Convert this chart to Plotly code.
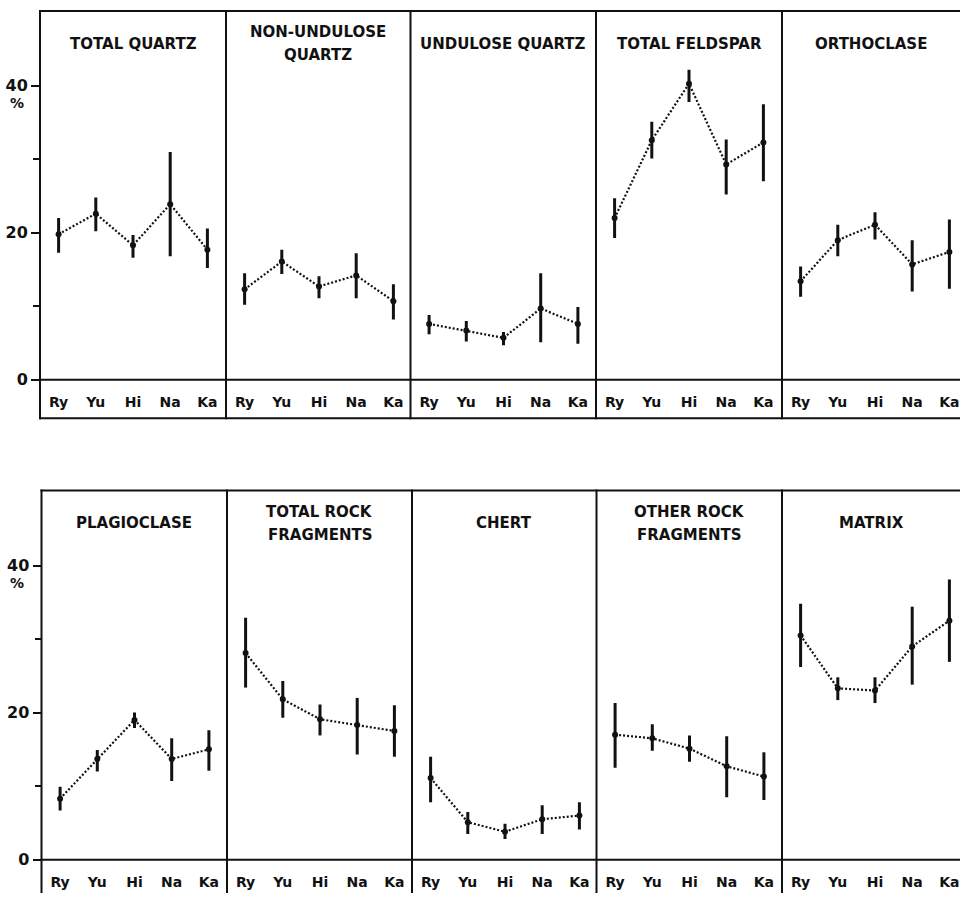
import plotly.graph_objects as go

W, H = 960, 903

categories = ["Ry", "Yu", "Hi", "Na", "Ka"]

# ---- data: mean, upper end and lower end of each bar (percent) ----
total_quartz_mean = [19.8, 22.6, 18.3, 23.9, 17.7]
total_quartz_upper = [22.0, 24.8, 19.7, 31.0, 20.6]
total_quartz_lower = [17.3, 20.2, 16.6, 16.8, 15.2]

non_undulose_mean = [12.3, 16.1, 12.7, 14.2, 10.7]
non_undulose_upper = [14.5, 17.7, 14.1, 17.2, 13.0]
non_undulose_lower = [10.2, 14.4, 11.1, 11.1, 8.2]

undulose_mean = [7.6, 6.7, 5.7, 9.7, 7.6]
undulose_upper = [8.8, 8.0, 6.5, 14.5, 9.9]
undulose_lower = [6.2, 5.2, 4.7, 5.1, 4.9]

total_feldspar_mean = [22.0, 32.6, 40.3, 29.3, 32.3]
total_feldspar_upper = [24.7, 35.1, 42.2, 32.7, 37.5]
total_feldspar_lower = [19.3, 30.1, 37.8, 25.2, 27.0]

orthoclase_mean = [13.4, 19.0, 21.1, 15.7, 17.4]
orthoclase_upper = [15.4, 21.1, 22.8, 19.0, 21.8]
orthoclase_lower = [11.3, 16.8, 19.1, 12.0, 12.4]

plagioclase_mean = [8.3, 13.7, 19.0, 13.7, 15.0]
plagioclase_upper = [9.9, 14.9, 20.0, 16.5, 17.6]
plagioclase_lower = [6.7, 12.0, 17.9, 10.7, 12.1]

total_rock_mean = [28.1, 21.8, 19.1, 18.3, 17.5]
total_rock_upper = [32.9, 24.3, 21.1, 22.0, 21.0]
total_rock_lower = [23.4, 19.3, 16.9, 14.3, 14.0]

chert_mean = [11.1, 5.1, 3.8, 5.5, 6.0]
chert_upper = [14.0, 6.5, 4.9, 7.4, 7.8]
chert_lower = [7.8, 3.5, 2.8, 3.5, 4.1]

other_rock_mean = [17.0, 16.5, 15.1, 12.7, 11.3]
other_rock_upper = [21.3, 18.4, 16.9, 16.8, 14.6]
other_rock_lower = [12.5, 14.8, 13.3, 8.5, 8.1]

matrix_mean = [30.5, 23.3, 23.0, 29.0, 32.5]
matrix_upper = [34.8, 24.8, 24.8, 34.4, 38.1]
matrix_lower = [26.2, 21.7, 21.3, 23.8, 26.9]

panel_titles = [
    ["TOTAL QUARTZ"], ["NON-UNDULOSE", "QUARTZ"], ["UNDULOSE QUARTZ"],
    ["TOTAL FELDSPAR"], ["ORTHOCLASE"],
    ["PLAGIOCLASE"], ["TOTAL ROCK", "FRAGMENTS"], ["CHERT"],
    ["OTHER ROCK", "FRAGMENTS"], ["MATRIX"],
]

y_tickvals = [0, 20, 40]
y_minor_tickvals = [10, 30]

panels = [
    (total_quartz_mean, total_quartz_upper, total_quartz_lower),
    (non_undulose_mean, non_undulose_upper, non_undulose_lower),
    (undulose_mean, undulose_upper, undulose_lower),
    (total_feldspar_mean, total_feldspar_upper, total_feldspar_lower),
    (orthoclase_mean, orthoclase_upper, orthoclase_lower),
    (plagioclase_mean, plagioclase_upper, plagioclase_lower),
    (total_rock_mean, total_rock_upper, total_rock_lower),
    (chert_mean, chert_upper, chert_lower),
    (other_rock_mean, other_rock_upper, other_rock_lower),
    (matrix_mean, matrix_upper, matrix_lower),
]

# ---- layout geometry (pixels) ----
INK = "#111111"
FONT = "DejaVu Sans"
col_edges = [
    [40, 226, 410.5, 596, 782, 960],
    [41.5, 227, 412, 596.5, 782, 960],
]
row_top = [11, 496]
row_zero = [384, 869.3]
row_bottom = [423, 903]
px_per_cat = 37.2
y_top_val = 50.2


def px(x):
    return x / W


def py(y):
    return 1 - y / H


fig = go.Figure()
layout = {}
annotations = []
shapes = []

for i, (mean, upper, lower) in enumerate(panels):
    r, c = divmod(i, 5)
    n = i + 1
    xa = "x" if n == 1 else f"x{n}"
    ya = "y" if n == 1 else f"y{n}"
    xkey = "xaxis" if n == 1 else f"xaxis{n}"
    ykey = "yaxis" if n == 1 else f"yaxis{n}"
    x0, x1 = col_edges[r][c], col_edges[r][c + 1]
    width_px = x1 - x0
    err_plus = [u - m for u, m in zip(upper, mean)]
    err_minus = [m - lo for m, lo in zip(mean, lower)]
    fig.add_trace(go.Scatter(
        x=list(range(len(categories))), y=mean,
        mode="lines+markers",
        line=dict(color=INK, width=2.2, dash="2px,2px"),
        marker=dict(color=INK, size=6),
        error_y=dict(type="data", symmetric=False, array=err_plus,
                     arrayminus=err_minus, color=INK, thickness=3, width=0),
        xaxis=xa, yaxis=ya, showlegend=False, hoverinfo="skip",
    ))
    layout[xkey] = dict(
        domain=[px(x0), px(x1)], anchor=ya,
        range=[-0.5, -0.5 + width_px / px_per_cat],
        tickmode="array", tickvals=list(range(len(categories))),
        ticktext=categories, ticks="", showgrid=False, zeroline=False,
        showline=False, ticklabelstandoff=12,
        tickfont=dict(family=FONT, size=14, color=INK, weight="bold"),
        fixedrange=True,
    )
    ydict = dict(
        domain=[py(row_zero[r]), py(row_top[r])], anchor=xa,
        range=[0, y_top_val], showgrid=False, zeroline=False, showline=False,
        fixedrange=True,
    )
    if c == 0:
        ydict.update(
            tickmode="array", tickvals=y_tickvals,
            ticktext=[str(v) for v in y_tickvals],
            ticks="outside", ticklen=8, tickwidth=2, tickcolor=INK,
            tickfont=dict(family=FONT, size=16, color=INK, weight="bold"),
            minor=dict(tickmode="array", tickvals=y_minor_tickvals,
                       ticks="outside", ticklen=6, tickwidth=2, tickcolor=INK),
        )
        annotations.append(dict(
            text="%", xref="paper", yref=ya, x=px(17), y=37.6,
            showarrow=False, xanchor="center", yanchor="middle",
            font=dict(family=FONT, size=14, color=INK, weight="bold"),
        ))
    else:
        ydict.update(showticklabels=False, ticks="")
    layout[ykey] = ydict

    # panel title
    lines = panel_titles[i]
    centre_y = row_top[r] + 33
    offsets = [0] if len(lines) == 1 else [-11.5, 11.5]
    for text, off in zip(lines, offsets):
        annotations.append(dict(
            text=text, xref="paper", yref="paper",
            x=px((x0 + min(x1, x0 + 186)) / 2), y=py(centre_y + off),
            showarrow=False, xanchor="center", yanchor="middle",
            font=dict(family=FONT, size=15, color=INK, weight="bold"),
        ))

# frame lines
for r in range(2):
    left = col_edges[r][0]
    for yy in (row_top[r], row_zero[r], row_bottom[r]):
        if yy >= H:
            continue
        shapes.append(dict(type="line", xref="paper", yref="paper",
                           x0=px(left - 1), x1=px(W), y0=py(yy), y1=py(yy),
                           line=dict(color=INK, width=2)))
    for xx in col_edges[r][:-1]:
        shapes.append(dict(type="line", xref="paper", yref="paper",
                           x0=px(xx), x1=px(xx), y0=py(row_top[r] - 1),
                           y1=py(min(row_bottom[r] + 1, H)),
                           line=dict(color=INK, width=2)))

fig.update_layout(
    width=W, height=H,
    margin=dict(l=0, r=0, t=0, b=0),
    paper_bgcolor="white", plot_bgcolor="rgba(0,0,0,0)",
    annotations=annotations, shapes=shapes,
    **layout,
)

fig.write_html(
    "out.html",
    config={"displayModeBar": False},
    post_script="document.body.style.margin='0';",
)
